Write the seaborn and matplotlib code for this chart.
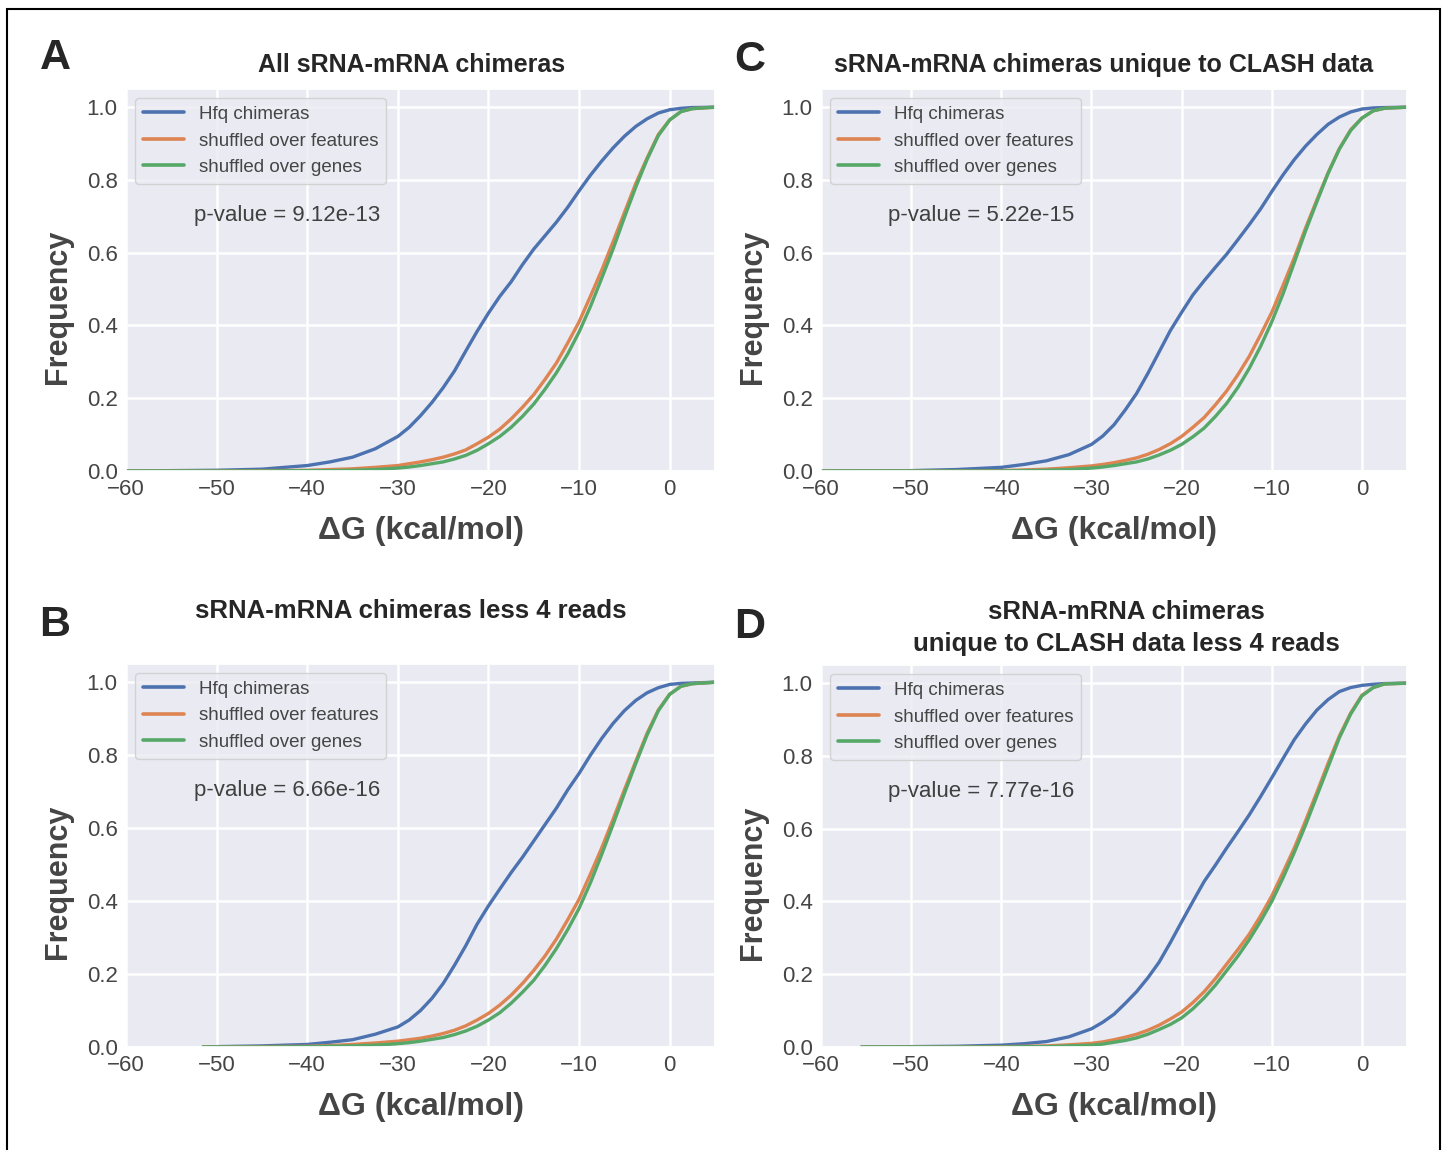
import pandas as pd
import matplotlib.pyplot as plt
from matplotlib.patches import Rectangle
import seaborn as sns

dg = [-60, -50, -45, -40, -37.5, -35, -32.5, -30, -28.75, -27.5, -26.25, -25,
      -23.75, -22.5, -21.25, -20, -18.75, -17.5, -16.25, -15, -13.75, -12.5,
      -11.25, -10, -8.75, -7.5, -6.25, -5, -3.75, -2.5, -1.25, 0, 1.25, 2.5, 5]

series = ['Hfq chimeras', 'shuffled over features', 'shuffled over genes']

# panel A - all chimeras
a_hfq = [0, 0.002, 0.005, 0.015, 0.025, 0.038, 0.061, 0.095, 0.12, 0.152, 0.188, 0.229,
         0.275, 0.33, 0.384, 0.434, 0.48, 0.52, 0.567, 0.61, 0.647, 0.684,
         0.725, 0.77, 0.813, 0.852, 0.888, 0.92, 0.947, 0.968, 0.984, 0.993, 0.997, 0.999, 1.0]
a_feat = [0, 0, 0.001, 0.002, 0.004, 0.006, 0.01, 0.015, 0.02, 0.025, 0.031, 0.038,
          0.047, 0.058, 0.075, 0.093, 0.115, 0.143, 0.175, 0.21, 0.252, 0.297,
          0.352, 0.41, 0.48, 0.552, 0.63, 0.71, 0.79, 0.86, 0.925, 0.965, 0.988, 0.996, 1.0]
a_gene = [0, 0, 0, 0.001, 0.001, 0.002, 0.004, 0.008, 0.011, 0.015, 0.02, 0.025,
          0.033, 0.043, 0.057, 0.075, 0.095, 0.12, 0.15, 0.184, 0.225, 0.27,
          0.322, 0.382, 0.452, 0.53, 0.61, 0.697, 0.78, 0.856, 0.922, 0.965, 0.988, 0.996, 1.0]

# panel B - less 4 reads
b_hfq = [0, 0.001, 0.003, 0.007, 0.013, 0.02, 0.035, 0.055, 0.074, 0.10, 0.133, 0.174,
         0.224, 0.278, 0.337, 0.387, 0.433, 0.478, 0.52, 0.565, 0.61, 0.655,
         0.705, 0.75, 0.80, 0.846, 0.887, 0.922, 0.95, 0.971, 0.985, 0.994, 0.997, 0.998, 1.0]
b_feat = [0, 0, 0.001, 0.002, 0.004, 0.007, 0.011, 0.016, 0.02, 0.024, 0.03, 0.037,
          0.046, 0.058, 0.074, 0.092, 0.115, 0.142, 0.174, 0.21, 0.25, 0.296,
          0.349, 0.405, 0.474, 0.546, 0.624, 0.705, 0.783, 0.86, 0.924, 0.967, 0.989, 0.996, 1.0]
b_gene = [0, 0, 0, 0.001, 0.002, 0.003, 0.005, 0.009, 0.012, 0.016, 0.021, 0.026,
          0.034, 0.044, 0.057, 0.074, 0.094, 0.12, 0.15, 0.183, 0.224, 0.27,
          0.322, 0.38, 0.45, 0.528, 0.61, 0.695, 0.777, 0.855, 0.922, 0.967, 0.989, 0.996, 1.0]

# panel C - unique to CLASH
c_hfq = [0, 0.001, 0.004, 0.01, 0.018, 0.028, 0.045, 0.073, 0.096, 0.127, 0.168, 0.213,
         0.268, 0.327, 0.386, 0.436, 0.484, 0.523, 0.56, 0.596, 0.636, 0.677,
         0.72, 0.768, 0.814, 0.856, 0.893, 0.925, 0.953, 0.973, 0.987, 0.995, 0.998, 0.999, 1.0]
c_feat = [0, 0, 0, 0.001, 0.003, 0.005, 0.009, 0.014, 0.018, 0.023, 0.029, 0.036,
          0.046, 0.059, 0.075, 0.095, 0.12, 0.147, 0.182, 0.22, 0.265, 0.315,
          0.374, 0.436, 0.51, 0.586, 0.668, 0.745, 0.82, 0.886, 0.938, 0.97, 0.99, 0.997, 1.0]
c_gene = [0, 0, 0, 0, 0.001, 0.002, 0.004, 0.008, 0.011, 0.015, 0.02, 0.025,
          0.033, 0.044, 0.057, 0.073, 0.094, 0.118, 0.15, 0.186, 0.23, 0.282,
          0.342, 0.41, 0.487, 0.573, 0.66, 0.74, 0.818, 0.885, 0.936, 0.97, 0.99, 0.997, 1.0]

# panel D - unique to CLASH, less 4 reads
d_hfq = [0, 0.001, 0.002, 0.005, 0.009, 0.015, 0.028, 0.05, 0.068, 0.09, 0.12, 0.152,
         0.19, 0.233, 0.287, 0.344, 0.40, 0.455, 0.50, 0.547, 0.592, 0.638,
         0.688, 0.74, 0.793, 0.845, 0.888, 0.926, 0.955, 0.977, 0.988, 0.994, 0.997, 0.999, 1.0]
d_feat = [0, 0, 0, 0.001, 0.002, 0.003, 0.006, 0.01, 0.014, 0.02, 0.027, 0.035,
          0.046, 0.06, 0.077, 0.096, 0.122, 0.152, 0.188, 0.228, 0.268, 0.31,
          0.36, 0.415, 0.48, 0.547, 0.622, 0.70, 0.78, 0.855, 0.918, 0.967, 0.988, 0.998, 1.0]
d_gene = [0, 0, 0, 0, 0.001, 0.001, 0.003, 0.005, 0.008, 0.013, 0.018, 0.025,
          0.035, 0.048, 0.062, 0.08, 0.105, 0.135, 0.17, 0.21, 0.25, 0.295,
          0.345, 0.40, 0.465, 0.535, 0.61, 0.69, 0.77, 0.85, 0.915, 0.965, 0.988, 0.998, 1.0]

# leftmost dG of each panel's curves
starts = {'A': -60, 'B': -51.5, 'C': -60, 'D': -55.5}

panels = {
    'A': ('All sRNA-mRNA chimeras', '9.12e-13', [a_hfq, a_feat, a_gene]),
    'B': ('sRNA-mRNA chimeras less 4 reads', '6.66e-16', [b_hfq, b_feat, b_gene]),
    'C': ('sRNA-mRNA chimeras unique to CLASH data', '5.22e-15', [c_hfq, c_feat, c_gene]),
    'D': ('sRNA-mRNA chimeras\nunique to CLASH data less 4 reads', '7.77e-16', [d_hfq, d_feat, d_gene]),
}

sns.set_theme(style='darkgrid')
plt.rcParams['font.family'] = ['Liberation Sans', 'DejaVu Sans']
plt.rcParams['grid.linewidth'] = 1.8

W, H = 1444, 1150
fig = plt.figure(figsize=(W / 100, H / 100), dpi=100)

# axes boxes in pixels: left, top, right, bottom
boxes = {'A': (126, 89, 715, 471), 'C': (821, 89, 1407, 471),
         'B': (126, 664, 715, 1047), 'D': (821, 665, 1407, 1047)}
letters = {'A': (55, 58), 'C': (750, 60), 'B': (55, 625), 'D': (750, 627)}
titles = {'A': (412, 65, 18), 'C': (1104, 65, 18), 'B': (411, 611, 18.5), 'D': (1126, 628, 18.5)}

palette = sns.color_palette('deep')[:3]

for key, (title, pval, ys) in panels.items():
    l, t, r, b = boxes[key]
    ax = fig.add_axes([l / W, 1 - b / H, (r - l) / W, (b - t) / H])
    rows = []
    for name, yv in zip(series, ys):
        for x, y in zip(dg, yv):
            if x >= starts[key] or x == dg[0]:
                rows.append((max(x, starts[key]), y, name))
    df = pd.DataFrame(rows, columns=['dG', 'freq', 'set'])
    sns.lineplot(data=df, x='dG', y='freq', hue='set', palette=palette,
                 sort=False, lw=2.4, ax=ax)
    ax.set_xlim(-60, 5)
    ax.set_ylim(0, 1.05)
    ax.set_xticks(range(-60, 1, 10))
    ax.set_yticks([0, 0.2, 0.4, 0.6, 0.8, 1.0])
    ax.set_xticklabels([f'\u2212{-v}' if v < 0 else str(v) for v in range(-60, 1, 10)])
    ax.set_yticklabels(['0.0', '0.2', '0.4', '0.6', '0.8', '1.0'])
    ax.tick_params(labelsize=16, labelcolor='0.27', length=0, pad=6)
    ax.set_xlabel('\u0394G (kcal/mol)', fontsize=23, fontweight='bold', color='0.27', labelpad=11)
    ax.set_ylabel('Frequency', fontsize=22, fontweight='bold', color='0.27')
    ax.yaxis.set_label_coords(-0.09, 0.43)
    leg = ax.legend(loc='upper left', fontsize=13.5, handlelength=2.2, borderaxespad=0.5)
    for txt in leg.get_texts():
        txt.set_color('0.27')
    for ln in leg.get_lines():
        ln.set_linewidth(2.6)
    ax.text(0.115, 0.67, f'p-value = {pval}', transform=ax.transAxes,
            fontsize=16, color='0.25', va='center', ha='left')

    tx, ty, tsize = titles[key]
    fig.text(tx / W, 1 - ty / H, title, ha='center', va='center',
             fontsize=tsize, fontweight='bold', linespacing=1.4)
    lx, ly = letters[key]
    fig.text(lx / W, 1 - ly / H, key, ha='center', va='center',
             fontsize=31, fontweight='bold')

# thin frame around the whole figure
fig.patches.append(Rectangle((7 / W, -0.01), (1440 - 7) / W, 1.01 - 9 / H,
                             transform=fig.transFigure, fill=False,
                             edgecolor='black', linewidth=1.5))

fig.savefig('out.png', dpi=100)
